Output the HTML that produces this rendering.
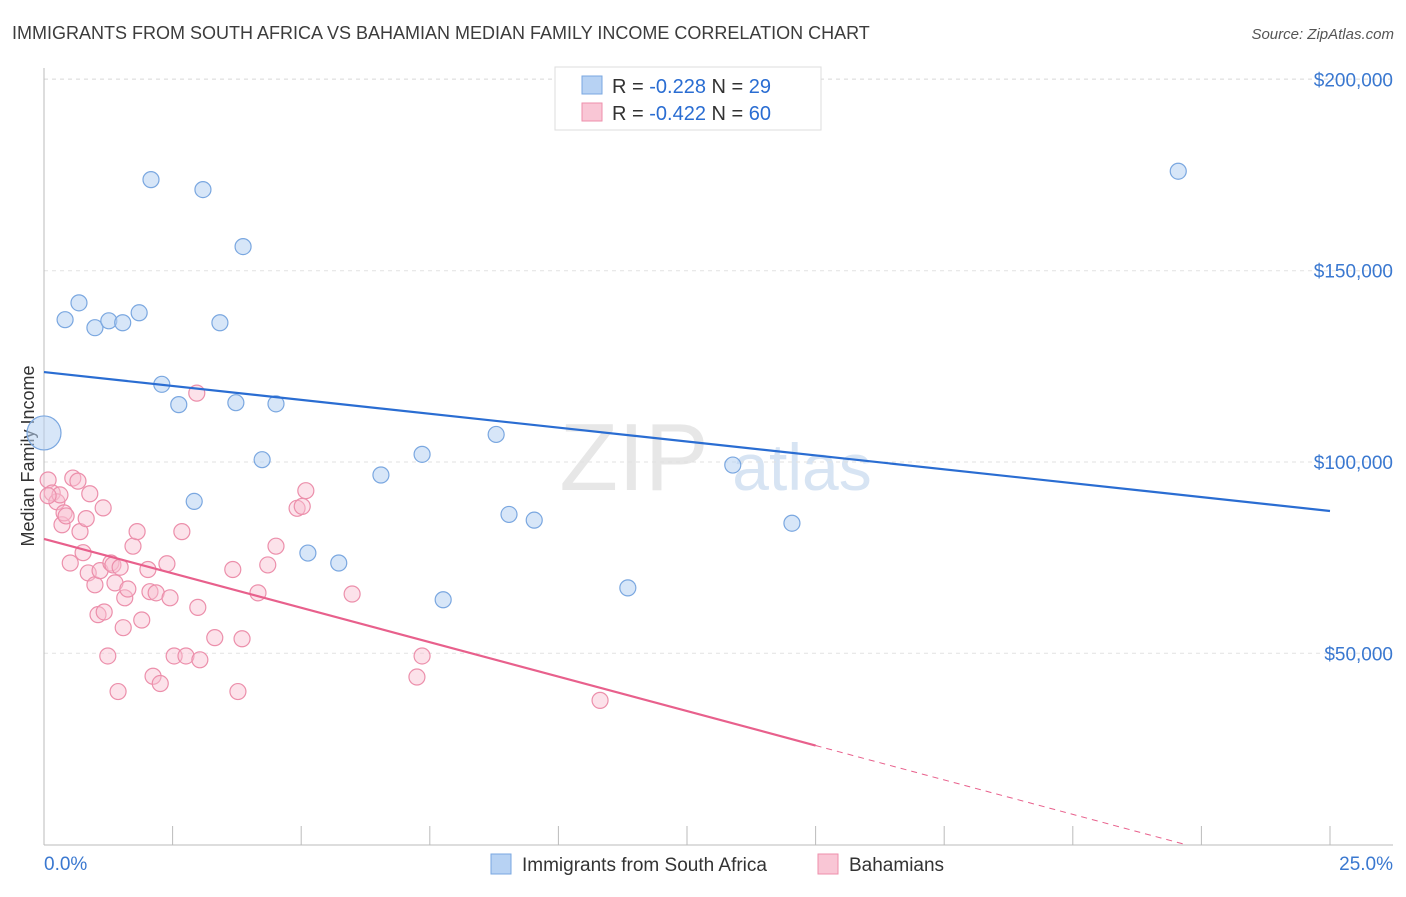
<!DOCTYPE html>
<html><head><meta charset="utf-8"><style>
body{margin:0;background:#fff;font-family:"Liberation Sans",sans-serif;}
svg text{font-family:"Liberation Sans",sans-serif;}
</style></head><body>
<svg id="chart" width="1406" height="892">
<text x="12" y="39" font-size="18" fill="#3c3c3c">IMMIGRANTS FROM SOUTH AFRICA VS BAHAMIAN MEDIAN FAMILY INCOME CORRELATION CHART</text>
<text x="1394" y="39" font-size="15" fill="#555" font-style="italic" text-anchor="end">Source: ZipAtlas.com</text>
<text x="34" y="456" font-size="18" fill="#333" text-anchor="middle" transform="rotate(-90 34 456)">Median Family Income</text>
<g><text x="634" y="490" font-size="96" fill="#ddd" font-family="Liberation Serif" text-anchor="middle" opacity="0.7">ZIP</text><text x="802" y="490" font-size="66" fill="#c7d9ef" text-anchor="middle" opacity="0.7">atlas</text></g>
<g id="grid"></g><g id="axes"></g><g id="pts"></g><g id="lines"></g>
<g>
<rect x="555" y="67" width="266" height="63" fill="#fff" stroke="#ddd"/>
<rect x="582" y="76" width="20" height="18" fill="#b7d2f3" stroke="#7aa7e0"/>
<text x="612" y="93" font-size="20" fill="#333">R = <tspan fill="#2a6dd2">-0.228</tspan>   N = <tspan fill="#2a6dd2">29</tspan></text>
<rect x="582" y="103" width="20" height="18" fill="#f9c6d5" stroke="#ee8fab"/>
<text x="612" y="120" font-size="20" fill="#333">R = <tspan fill="#2a6dd2">-0.422</tspan>   N = <tspan fill="#2a6dd2">60</tspan></text>
</g>
<g>
<rect x="491" y="854" width="20" height="20" fill="#b7d2f3" stroke="#7aa7e0"/>
<text x="522" y="871" font-size="19" fill="#333">Immigrants from South Africa</text>
<rect x="818" y="854" width="20" height="20" fill="#f9c6d5" stroke="#ee8fab"/>
<text x="849" y="871" font-size="19" fill="#333">Bahamians</text>
</g>
</svg>
<script>
const yTicks=[50000,100000,150000,200000];
const yTickLabels=["$50,000","$100,000","$150,000","$200,000"];
const xTickLabels=["0.0%","25.0%"];
const blueX=[0,0.41,0.68,0.99,1.26,1.53,1.85,2.08,2.29,2.62,2.92,3.09,3.42,3.73,3.87,4.24,4.51,5.13,5.73,6.55,7.35,7.76,8.79,9.04,9.53,11.35,13.39,14.54,22.05];
const blueY=[107600,137200,141600,135100,136900,136400,139000,173800,120300,115000,89700,171200,136400,115500,156300,100600,115200,76200,73600,96600,102000,64000,107200,86300,84800,67100,99200,84000,176000];
const pinkX=[0.08,0.16,0.25,0.31,0.35,0.39,0.43,0.51,0.56,0.66,0.7,0.76,0.82,0.86,0.89,0.99,1.05,1.09,1.15,1.17,1.24,1.3,1.34,1.38,1.44,1.48,1.54,1.57,1.63,1.73,1.81,1.9,2.02,2.06,2.12,2.18,2.26,2.39,2.45,2.53,2.68,2.76,2.97,2.99,3.03,3.32,3.67,3.77,3.85,4.16,4.35,4.51,4.92,5.02,5.09,5.99,7.25,7.35,10.81,0.08];
const pinkY=[95300,91900,89600,91400,83600,86700,85900,73600,95800,95000,81800,76300,85200,71000,91700,67900,60100,71600,88000,60800,49300,73600,73100,68400,40000,72500,56700,64500,66800,78000,81800,58700,71900,66100,44000,65800,42100,73400,64500,49300,81800,49300,118000,62000,48300,54100,71900,40000,53800,65800,73100,78000,87900,88400,92500,65500,43800,49300,37700,91200];
const blueLine=[123500,87200];   // y at x=0% and x=25%
const pinkLine=[79900,-3600];    // intercept, slope per %
const NS="http://www.w3.org/2000/svg";
const sx=v=>44+v*51.44, sy=v=>844.6-v/50000*191.3;
function mk(t,a,p){const e=document.createElementNS(NS,t);for(const k in a)e.setAttribute(k,a[k]);p.appendChild(e);return e;}
const grid=document.getElementById('grid'),axes=document.getElementById('axes'),pts=document.getElementById('pts'),lines=document.getElementById('lines');
yTicks.forEach((v,i)=>{
 const g=mk('line',{x1:44,x2:1393,y1:sy(v),y2:sy(v),stroke:'#e2e2e2','stroke-dasharray':'4,4'},grid);
 
 
 const t=mk('text',{x:1393,y:sy(v)+7,'font-size':19,fill:'#3a78d0','text-anchor':'end'},axes);
 t.textContent=yTickLabels[i];
 
 
});
const gl=mk('line',{x1:44,x2:1393,y1:79,y2:79,stroke:'#e2e2e2','stroke-dasharray':'4,4'},grid);


const ax=mk('line',{x1:44,x2:1393,y1:845,y2:845,stroke:'#bbb'},axes);


const ay=mk('line',{x1:44,x2:44,y1:68,y2:845,stroke:'#bbb'},axes);


for(let i=1;i<=10;i++){const tk=mk('line',{x1:sx(i*2.5),x2:sx(i*2.5),y1:826,y2:845,stroke:'#bbb'},axes);
 
 }
const xl0=mk('text',{x:44,y:870,'font-size':19,fill:'#3a78d0'},axes);xl0.textContent=xTickLabels[0];


const xl1=mk('text',{x:1393,y:870,'font-size':19,fill:'#3a78d0','text-anchor':'end'},axes);xl1.textContent=xTickLabels[1];


pinkX.forEach((x,i)=>{const c=mk('circle',{cx:sx(x),cy:sy(pinkY[i]),r:8,fill:'rgba(248,190,208,0.45)',stroke:'#ec8fab','stroke-width':1.2},pts);
 
 });
blueX.forEach((x,i)=>{const c=mk('circle',{cx:sx(x),cy:sy(blueY[i]),r:i===0?17:8,fill:'rgba(183,210,243,0.55)',stroke:'#7aa7e0','stroke-width':1.2},pts);
 
 });
const bl=mk('line',{x1:sx(0),y1:sy(blueLine[0]),x2:sx(25),y2:sy(blueLine[1]),stroke:'#2a6dd2','stroke-width':2.2},lines);


const pf=x=>pinkLine[0]+pinkLine[1]*x, xEnd=-pinkLine[0]/pinkLine[1];
const pl=mk('line',{x1:sx(0),y1:sy(pf(0)),x2:sx(15),y2:sy(pf(15)),stroke:'#e8608c','stroke-width':2.2},lines);


const pd=mk('line',{x1:sx(15),y1:sy(pf(15)),x2:sx(xEnd),y2:sy(0),stroke:'#e8608c','stroke-width':1,'stroke-dasharray':'6,5'},lines);


</script>
</body></html>
